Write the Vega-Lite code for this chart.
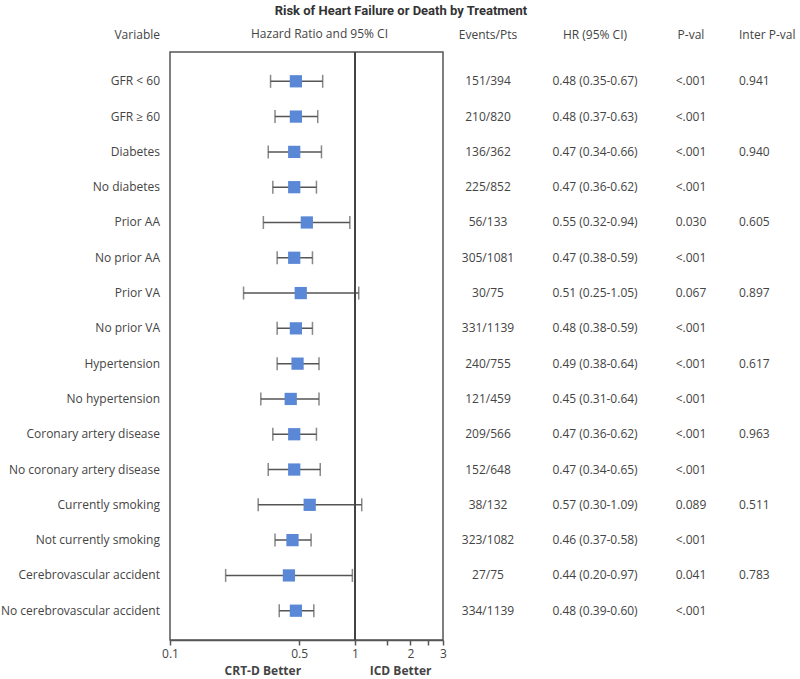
{
  "$schema": "https://vega.github.io/schema/vega-lite/v6.json",
  "padding": {"left": 0, "right": 0, "top": 4, "bottom": 0},
  "spacing": 0,
  "bounds": "flush",
  "title": {"text": "Risk of Heart Failure or Death by Treatment", "fontSize": 13, "fontWeight": "bold", "color": "#333333", "font": "Liberation Sans Narrow, Roboto, sans-serif", "anchor": "middle", "offset": 10},
  "datasets": {
    "rows": [
      {"v": "GFR < 60", "ev": "151/394", "hr": 0.48, "lo": 0.35, "hi": 0.67, "hrtxt": "0.48 (0.35-0.67)", "p": "<.001", "ip": "0.941"},
      {"v": "GFR ≥ 60", "ev": "210/820", "hr": 0.48, "lo": 0.37, "hi": 0.63, "hrtxt": "0.48 (0.37-0.63)", "p": "<.001", "ip": ""},
      {"v": "Diabetes", "ev": "136/362", "hr": 0.47, "lo": 0.34, "hi": 0.66, "hrtxt": "0.47 (0.34-0.66)", "p": "<.001", "ip": "0.940"},
      {"v": "No diabetes", "ev": "225/852", "hr": 0.47, "lo": 0.36, "hi": 0.62, "hrtxt": "0.47 (0.36-0.62)", "p": "<.001", "ip": ""},
      {"v": "Prior AA", "ev": "56/133", "hr": 0.55, "lo": 0.32, "hi": 0.94, "hrtxt": "0.55 (0.32-0.94)", "p": "0.030", "ip": "0.605"},
      {"v": "No prior AA", "ev": "305/1081", "hr": 0.47, "lo": 0.38, "hi": 0.59, "hrtxt": "0.47 (0.38-0.59)", "p": "<.001", "ip": ""},
      {"v": "Prior VA", "ev": "30/75", "hr": 0.51, "lo": 0.25, "hi": 1.05, "hrtxt": "0.51 (0.25-1.05)", "p": "0.067", "ip": "0.897"},
      {"v": "No prior VA", "ev": "331/1139", "hr": 0.48, "lo": 0.38, "hi": 0.59, "hrtxt": "0.48 (0.38-0.59)", "p": "<.001", "ip": ""},
      {"v": "Hypertension", "ev": "240/755", "hr": 0.49, "lo": 0.38, "hi": 0.64, "hrtxt": "0.49 (0.38-0.64)", "p": "<.001", "ip": "0.617"},
      {"v": "No hypertension", "ev": "121/459", "hr": 0.45, "lo": 0.31, "hi": 0.64, "hrtxt": "0.45 (0.31-0.64)", "p": "<.001", "ip": ""},
      {"v": "Coronary artery disease", "ev": "209/566", "hr": 0.47, "lo": 0.36, "hi": 0.62, "hrtxt": "0.47 (0.36-0.62)", "p": "<.001", "ip": "0.963"},
      {"v": "No coronary artery disease", "ev": "152/648", "hr": 0.47, "lo": 0.34, "hi": 0.65, "hrtxt": "0.47 (0.34-0.65)", "p": "<.001", "ip": ""},
      {"v": "Currently smoking", "ev": "38/132", "hr": 0.57, "lo": 0.30, "hi": 1.09, "hrtxt": "0.57 (0.30-1.09)", "p": "0.089", "ip": "0.511"},
      {"v": "Not currently smoking", "ev": "323/1082", "hr": 0.46, "lo": 0.37, "hi": 0.58, "hrtxt": "0.46 (0.37-0.58)", "p": "<.001", "ip": ""},
      {"v": "Cerebrovascular accident", "ev": "27/75", "hr": 0.44, "lo": 0.20, "hi": 0.97, "hrtxt": "0.44 (0.20-0.97)", "p": "0.041", "ip": "0.783"},
      {"v": "No cerebrovascular accident", "ev": "334/1139", "hr": 0.48, "lo": 0.39, "hi": 0.60, "hrtxt": "0.48 (0.39-0.60)", "p": "<.001", "ip": ""}
    ]
  },
  "hconcat": [
    {
      "width": 169, "height": 588,
      "title": {"text": "Variable", "anchor": "end", "dx": -10},
      "data": {"name": "rows"},
      "mark": {"type": "text", "align": "right", "dx": -10, "fontSize": 12, "font": "Open Sans", "color": "#444444"},
      "encoding": {
        "x": {"value": "width"},
        "y": {"field": "v", "type": "nominal", "sort": null, "scale": {"type": "point", "padding": 0.83}, "axis": null},
        "text": {"field": "v"}
      }
    },
    {
      "width": 273, "height": 588,
      "title": {"text": "Hazard Ratio and 95% CI", "dx": 13},
      "view": {"stroke": "#555555", "strokeWidth": 1.5},
      "data": {"name": "rows"},
      "encoding": {
        "y": {"field": "v", "type": "nominal", "sort": null, "scale": {"type": "point", "padding": 0.83}, "axis": null}
      },
      "resolve": {"axis": {"x": "independent"}},
      "layer": [
        {
          "mark": {"type": "rule", "color": "#555555", "strokeWidth": 1.5},
          "encoding": {
            "x": {"field": "lo", "type": "quantitative", "scale": {"type": "log", "domain": [0.1, 3], "nice": false},
                  "axis": {"orient": "bottom", "values": [0.1, 0.5, 1, 1.5, 2, 2.5, 3], "labelExpr": "datum.value == 1.5 || datum.value == 2.5 ? '' : format(datum.value, '~g')", "title": null, "grid": false, "domainColor": "#555555", "domainWidth": 1.5, "tickColor": "#555555", "tickWidth": 1.5, "tickSize": 5, "labelPadding": 3, "labelFontSize": 12, "labelFont": "Open Sans", "labelColor": "#444444", "labelFlush": false}},
            "x2": {"field": "hi"}
          }
        },
        {
          "mark": {"type": "tick", "color": "#555555", "thickness": 1.5, "size": 13},
          "encoding": {"x": {"field": "lo", "type": "quantitative", "scale": {"type": "log", "domain": [0.1, 3], "nice": false}, "axis": null}}
        },
        {
          "mark": {"type": "tick", "color": "#555555", "thickness": 1.5, "size": 13},
          "encoding": {"x": {"field": "hi", "type": "quantitative", "scale": {"type": "log", "domain": [0.1, 3], "nice": false}, "axis": null}}
        },
        {
          "mark": {"type": "point", "shape": "square", "filled": true, "size": 150, "color": "#5b88d6", "opacity": 1},
          "encoding": {"x": {"field": "hr", "type": "quantitative", "scale": {"type": "log", "domain": [0.1, 3], "nice": false}, "axis": null}}
        },
        {
          "mark": {"type": "rule", "color": "#444444", "strokeWidth": 1.5},
          "encoding": {
            "x": {"datum": 1, "type": "quantitative", "scale": {"type": "log", "domain": [0.1, 3], "nice": false},
                  "axis": {"orient": "bottom", "values": [0.316, 1.757], "labelExpr": "datum.value < 1 ? 'CRT-D Better' : 'ICD Better'", "title": null, "grid": false, "domain": false, "ticks": false, "labelPadding": 25, "labelFontSize": 12, "labelFontWeight": "bold", "labelFont": "Open Sans", "labelColor": "#444444", "labelFlush": false}},
            "y": {"value": 0},
            "y2": {"value": "height"}
          }
        }
      ]
    },
    {
      "width": 90, "height": 588,
      "title": "Events/Pts",
      "data": {"name": "rows"},
      "mark": {"type": "text", "fontSize": 12, "font": "Open Sans", "color": "#444444"},
      "encoding": {
        "y": {"field": "v", "type": "nominal", "sort": null, "scale": {"type": "point", "padding": 0.83}, "axis": null},
        "text": {"field": "ev"}
      }
    },
    {
      "width": 124, "height": 588,
      "title": "HR (95% CI)",
      "data": {"name": "rows"},
      "mark": {"type": "text", "fontSize": 12, "font": "Open Sans", "color": "#444444"},
      "encoding": {
        "y": {"field": "v", "type": "nominal", "sort": null, "scale": {"type": "point", "padding": 0.83}, "axis": null},
        "text": {"field": "hrtxt"}
      }
    },
    {
      "width": 68, "height": 588,
      "title": "P-val",
      "data": {"name": "rows"},
      "mark": {"type": "text", "fontSize": 12, "font": "Open Sans", "color": "#444444"},
      "encoding": {
        "y": {"field": "v", "type": "nominal", "sort": null, "scale": {"type": "point", "padding": 0.83}, "axis": null},
        "text": {"field": "p"}
      }
    },
    {
      "width": 76, "height": 588,
      "title": {"text": "Inter P-val", "anchor": "start", "dx": 14},
      "data": {"name": "rows"},
      "mark": {"type": "text", "align": "left", "dx": 14, "fontSize": 12, "font": "Open Sans", "color": "#444444"},
      "encoding": {
        "x": {"value": 0},
        "y": {"field": "v", "type": "nominal", "sort": null, "scale": {"type": "point", "padding": 0.83}, "axis": null},
        "text": {"field": "ip"}
      }
    }
  ],
  "config": {
    "view": {"stroke": null},
    "title": {"fontSize": 12, "font": "Open Sans", "fontWeight": "normal", "color": "#444444", "offset": 10}
  }
}
